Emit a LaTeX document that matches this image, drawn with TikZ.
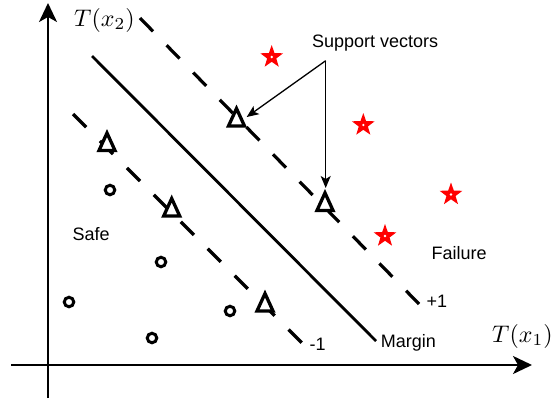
\documentclass[tikz,border=0pt]{standalone}
\usepackage{graphicx}
\usepackage{fontspec}
\newfontfamily\labfont{Liberation Sans}
\usetikzlibrary{arrows.meta,shapes.geometric}
\begin{document}
\begin{tikzpicture}[x=1pt,y=-1pt,
  lab/.style={font=\labfont\fontsize{18}{21}\selectfont, inner sep=0pt, anchor=base west},
  mathlab/.style={inner sep=0pt, anchor=base west},
  axis/.style={line width=2pt, -{Stealth[length=19pt,width=18pt,inset=5pt]}},
  bound/.style={line width=2.8pt},
  margline/.style={line width=3.2pt, dash pattern=on 18.6pt off 19.5pt},
  svarrow/.style={line width=1.3pt, -{Stealth[length=12pt,width=10pt,inset=3pt]}},
  tri/.style={line width=3.3pt, fill=white, line join=miter},
  circ/.style={circle, draw, line width=3pt, minimum size=9.5pt, inner sep=0pt},
  starm/.style={star, star points=5, star point ratio=2.5, fill=red, minimum size=24pt, inner sep=0pt},
  hole/.style={circle, fill=white, minimum size=2.6pt, inner sep=0pt},
]
\useasboundingbox (0,0) rectangle (556,399);

% axes
\coordinate (yb) at (48,398);
\coordinate (yt) at (48,3);
\coordinate (xl) at (11,365);
\coordinate (xr) at (532,365);
\draw[axis] (yb) -- (yt);
\draw[axis] (xl) -- (xr);

% separating lines
\coordinate (ps) at (140,18);
\coordinate (pe) at (419,304);
\coordinate (ms) at (73,114);
\coordinate (me) at (302,343);
\coordinate (bs) at (92,56);
\coordinate (be) at (376,341);
\draw[margline] (ps) -- (pe);
\draw[margline] (ms) -- (me);
\draw[bound] (bs) -- (be);

% triangles (support vectors)
\foreach \n/\x/\y in {tA/107/143.5, tB/236.5/119, tC/171.7/209, tD/325/203.4, tE/265/304}{
  \coordinate (\n) at (\x,\y);
  \draw[tri] (\n) ++(0,-10.5) -- ++(8,17.5) -- ++(-16,0) -- cycle;
}

% circles (safe)
\node[circ] (c1) at (110,190) {};
\node[circ] (c2) at (161,262) {};
\node[circ] (c3) at (69,302) {};
\node[circ] (c4) at (152,338) {};
\node[circ] (c5) at (230,311) {};

% stars (failure)
\foreach \n/\x/\y in {s1/271.7/57, s2/363.3/125, s3/451/194.5, s4/385/236}{
  \node[starm] (\n) at (\x,\y) {};
  \node[hole] at (\n.center) {};
}

% labels
\node[mathlab] (tx2) at (74,26) {\scalebox{2.4}{$T(x_2)$}};
\node[mathlab] (tx1) at (492,342) {\scalebox{2.4}{$T(x_1)$}};
\node[lab] (sv) at (312,47) {Support vectors};
\node[lab] (safe) at (72.5,240.7) {Safe};
\node[lab] (fail) at (431.4,259) {Failure};
\node[lab] (plus) at (426.5,307.7) {+1};
\node[lab] (minus) at (309.5,350) {-1};
\node[lab] (marg) at (380.7,347.7) {Margin};

% support vector arrows
\coordinate (fork) at (325.7,60.7);
\coordinate (hitB) at (246.7,117);
\coordinate (hitD) at (325.7,188);
\draw[svarrow] (fork) -- (hitB);
\draw[svarrow] (fork) -- (hitD);
\end{tikzpicture}
\end{document}
